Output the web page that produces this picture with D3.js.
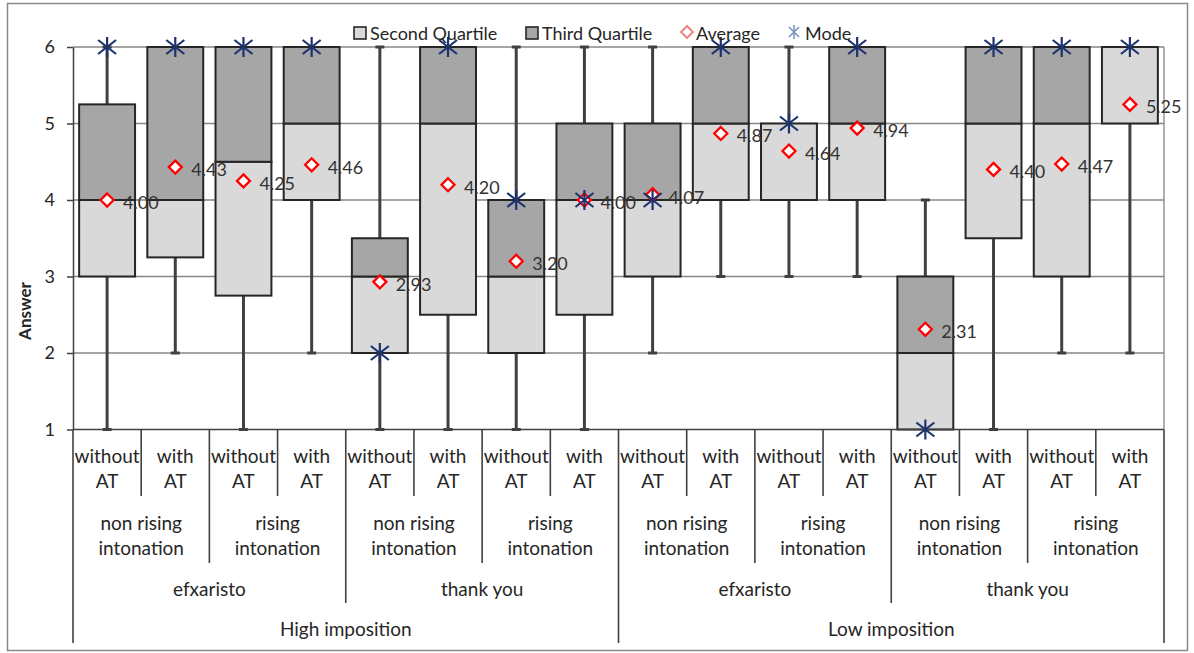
<!DOCTYPE html>
<html>
<head>
<meta charset="utf-8">
<script src="https://cdn.jsdelivr.net/npm/d3@7"></script>
<style>
  html, body { margin: 0; padding: 0; background: #fff; }
  svg { display: block; font-family: Lato, "Open Sans", sans-serif; }
</style>
</head>
<body>
<svg id="chart" width="1194" height="653"></svg>
<script>
// Category hierarchy (outermost first)
const impositionLevels = ["High imposition", "Low imposition"];
const wordLevels = ["efxaristo", "thank you"];
const intonationLevels = ["non rising intonation", "rising intonation"];
const atLevels = ["without AT", "with AT"];

// Five-number summaries per category, plus average and mode
const minima   = [1, 2, 1, 2,   1, 1, 1, 1,   2, 3, 3, 3,   1, 1, 2, 2];
const q1       = [3, 3.25, 2.75, 4,   2, 2.5, 2, 2.5,   3, 4, 4, 4,   1, 3.5, 3, 5];
const medians  = [4, 4, 4.5, 5,   3, 5, 3, 4,   4, 5, 5, 5,   2, 5, 5, 6];
const q3       = [5.25, 6, 6, 6,   3.5, 6, 4, 5,   5, 6, 5, 6,   3, 6, 6, 6];
const maxima   = [6, 6, 6, 6,   6, 6, 6, 6,   6, 6, 6, 6,   4, 6, 6, 6];
const averages = [4.00, 4.43, 4.25, 4.46,   2.93, 4.20, 3.20, 4.00,   4.07, 4.87, 4.64, 4.94,   2.31, 4.40, 4.47, 5.25];
const modes    = [6, 6, 6, 6,   2, 6, 4, 4,   4, 6, 5, 6,   1, 6, 6, 6];
const yTicks   = [1, 2, 3, 4, 5, 6];

// Build the 16 leaf categories
const categories = [];
impositionLevels.forEach(imp => wordLevels.forEach(w => intonationLevels.forEach(into => atLevels.forEach(at => {
  categories.push({imp, w, into, at});
}))));
const rows = categories.map((c, i) => ({
  ...c, i,
  min: minima[i], q1: q1[i], med: medians[i], q3: q3[i], max: maxima[i],
  avg: averages[i], mode: modes[i]
}));

const svg = d3.select("#chart");
const plotLeft = 73, plotRight = 1164, plotTop = 47, plotBottom = 429.5;

const x = d3.scaleBand().domain(d3.range(rows.length)).range([plotLeft, plotRight])
  .paddingInner(0.18).paddingOuter(0.09);
const y = d3.scaleLinear().domain([1, 6]).range([plotBottom, plotTop]);

const dark = "#404040";
const fillLight = "#d9d9d9", fillDark = "#a6a6a6";
const red = "#ff0000", navy = "#1c3370";

// Outer chart frame
svg.append("rect").attr("x", 7.5).attr("y", 3.5).attr("width", 1180).attr("height", 647)
  .attr("fill", "none").attr("stroke", "#8a8a8a").attr("stroke-width", 1.5);

// Horizontal gridlines
svg.append("g").selectAll("line").data(yTicks.filter(t => t > 1)).join("line")
  .attr("x1", plotLeft).attr("x2", plotRight)
  .attr("y1", d => y(d)).attr("y2", d => y(d))
  .attr("stroke", "#868686").attr("stroke-width", 1.3);
svg.append("line").attr("x1", plotRight).attr("x2", plotRight).attr("y1", plotTop).attr("y2", plotBottom)
  .attr("stroke", "#868686").attr("stroke-width", 1.3);

// Value axis
const yAxis = svg.append("g").attr("transform", `translate(${plotLeft},0)`)
  .call(d3.axisLeft(y).tickValues(yTicks).tickFormat(d3.format("d")).tickSize(6).tickSizeOuter(0).tickPadding(12));
yAxis.select(".domain").attr("stroke", dark).attr("stroke-width", 1.5);
yAxis.selectAll(".tick line").attr("stroke", dark).attr("stroke-width", 1.5);
yAxis.selectAll(".tick text").attr("font-size", 18).attr("fill", "#262626")
  .attr("font-family", "Lato, sans-serif");

svg.append("text").attr("transform", "translate(31,311) rotate(-90)")
  .attr("text-anchor", "middle").attr("font-size", 17).attr("font-weight", "bold")
  .attr("fill", "#262626").text("Answer");

// Whiskers
const cx = d => x(d.i) + x.bandwidth() / 2;
const wg = svg.append("g").attr("stroke", dark).attr("stroke-width", 3);
rows.forEach(d => {
  if (d.min < d.q1) wg.append("line").attr("x1", cx(d)).attr("x2", cx(d)).attr("y1", y(d.min)).attr("y2", y(d.q1));
  if (d.max > d.q3) wg.append("line").attr("x1", cx(d)).attr("x2", cx(d)).attr("y1", y(d.q3)).attr("y2", y(d.max));
  [d.min, d.max].forEach(v => {
    if (v < d.q1 || v > d.q3)
      wg.append("line").attr("x1", cx(d) - 4.5).attr("x2", cx(d) + 4.5).attr("y1", y(v)).attr("y2", y(v));
  });
});

// Second quartile (Q1 → median) and third quartile (median → Q3) boxes
const bg = svg.append("g").attr("stroke", "#262626").attr("stroke-width", 2);
bg.selectAll("rect.lo").data(rows.filter(d => d.med > d.q1)).join("rect").attr("class", "lo")
  .attr("x", d => x(d.i)).attr("width", x.bandwidth())
  .attr("y", d => y(d.med)).attr("height", d => y(d.q1) - y(d.med))
  .attr("fill", fillLight);
bg.selectAll("rect.hi").data(rows.filter(d => d.q3 > d.med)).join("rect").attr("class", "hi")
  .attr("x", d => x(d.i)).attr("width", x.bandwidth())
  .attr("y", d => y(d.q3)).attr("height", d => y(d.med) - y(d.q3))
  .attr("fill", fillDark);

// Category axis line and group dividers
const cg = svg.append("g").attr("stroke", dark).attr("stroke-width", 1.6);
cg.append("line").attr("x1", plotLeft).attr("x2", plotRight).attr("y1", plotBottom).attr("y2", plotBottom);
d3.range(rows.length + 1).forEach(k => {
  const xx = k < rows.length ? x.step() * k + plotLeft : plotRight;
  let y2;
  if (k % 8 === 0) y2 = 643;
  else if (k % 4 === 0) y2 = 603;
  else if (k % 2 === 0) y2 = 563;
  else y2 = 496;
  cg.append("line").attr("x1", xx).attr("x2", xx).attr("y1", plotBottom).attr("y2", y2);
});

// Category labels
const lab = svg.append("g").attr("font-size", 19).attr("fill", "#262626").attr("text-anchor", "middle");
function twoLine(xc, text, y1, y2) {
  const parts = text.split(" ");
  const last = parts.pop();
  lab.append("text").attr("x", xc).attr("y", y1).text(parts.join(" "));
  lab.append("text").attr("x", xc).attr("y", y2).text(last);
}
rows.forEach(d => twoLine(cx(d), d.at, 463, 488));
for (let g = 0; g < 8; g++) {
  const xc = plotLeft + x.step() * (2 * g + 1);
  twoLine(xc, categories[2 * g].into, 530, 555);
}
for (let g = 0; g < 4; g++) {
  const xc = plotLeft + x.step() * (4 * g + 2);
  lab.append("text").attr("x", xc).attr("y", 596).text(categories[4 * g].w);
}
for (let g = 0; g < 2; g++) {
  const xc = plotLeft + x.step() * (8 * g + 4);
  lab.append("text").attr("x", xc).attr("y", 636).text(categories[8 * g].imp);
}

// Markers
const diamond = r => `M0,${-r}L${r},0L0,${r}L${-r},0Z`;
const star = (w, h, v) => `M${-w},${-h}L${w},${h}M${-w},${h}L${w},${-h}M0,${-v}L0,${v}`;

svg.append("g").selectAll("path").data(rows).join("path")
  .attr("transform", d => `translate(${cx(d)},${y(d.avg)})`)
  .attr("d", diamond(6.5)).attr("fill", "#fff").attr("stroke", red).attr("stroke-width", 2.3);

svg.append("g").selectAll("path").data(rows).join("path")
  .attr("transform", d => `translate(${cx(d)},${y(d.mode)})`)
  .attr("d", star(9, 7, 10)).attr("fill", "none").attr("stroke", navy).attr("stroke-width", 2.2);

svg.append("g").selectAll("text").data(rows).join("text")
  .attr("x", d => cx(d) + 16).attr("y", d => y(d.avg) + 2)
  .attr("dominant-baseline", "central").attr("font-size", 18).attr("fill", "#333")
  .text(d => d3.format(".2f")(d.avg));

// Legend
const lg = svg.append("g").attr("font-size", 18).attr("fill", "#262626");
lg.append("rect").attr("x", 354).attr("y", 27).attr("width", 12).attr("height", 12)
  .attr("fill", fillLight).attr("stroke", "#262626").attr("stroke-width", 1.6);
lg.append("text").attr("x", 370).attr("y", 33).attr("dominant-baseline", "central").text("Second Quartile");
lg.append("rect").attr("x", 526).attr("y", 27).attr("width", 12).attr("height", 12)
  .attr("fill", fillDark).attr("stroke", "#262626").attr("stroke-width", 1.6);
lg.append("text").attr("x", 542).attr("y", 33).attr("dominant-baseline", "central").text("Third Quartile");
lg.append("path").attr("transform", "translate(687,32)").attr("d", diamond(6))
  .attr("fill", "#fff").attr("stroke", "#f47a7a").attr("stroke-width", 1.8);
lg.append("text").attr("x", 696).attr("y", 33).attr("dominant-baseline", "central").text("Average");
lg.append("path").attr("transform", "translate(794,32)").attr("d", star(5, 5, 7))
  .attr("fill", "none").attr("stroke", "#7f95c6").attr("stroke-width", 1.6);
lg.append("text").attr("x", 805).attr("y", 33).attr("dominant-baseline", "central").text("Mode");
</script>
</body>
</html>
